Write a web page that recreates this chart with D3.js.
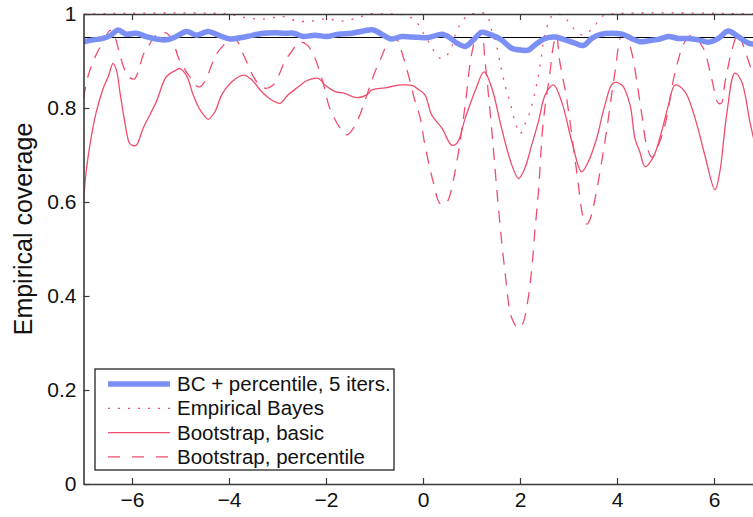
<!DOCTYPE html>
<html>
<head>
<meta charset="utf-8">
<script src="https://cdn.jsdelivr.net/npm/d3@7"></script>
<style>
  body { margin: 0; background: #fff; }
  svg { display: block; }
</style>
</head>
<body>
<div id="chart"></div>
<script>
var width = 753,
    height = 517;

// BC + percentile, 5 iters.
var bcX = [-7, -6.8, -6.6, -6.43, -6.29, -6.12, -5.91, -5.71, -5.5, -5.29, -5.09, -4.88, -4.67, -4.43, -4.22, -3.98, -3.74, -3.5, -3.29, -3.05, -2.85, -2.67, -2.47, -2.23, -1.99, -1.75, -1.47, -1.23, -1.02, -0.82, -0.65, -0.44, -0.23, 0.11, 0.39, 0.52, 0.7, 0.87, 1.04, 1.21, 1.42, 1.62, 1.83, 2.04, 2.17, 2.31, 2.52, 2.73, 2.93, 3.13, 3.31, 3.48, 3.68, 3.89, 4.1, 4.3, 4.47, 4.65, 4.85, 5.06, 5.26, 5.47, 5.68, 5.88, 6.09, 6.29, 6.5, 6.71, 7];
var bcY = [0.941, 0.945, 0.948, 0.955, 0.966, 0.957, 0.959, 0.952, 0.947, 0.945, 0.952, 0.963, 0.955, 0.963, 0.955, 0.947, 0.95, 0.955, 0.959, 0.96, 0.959, 0.959, 0.952, 0.955, 0.952, 0.957, 0.959, 0.964, 0.966, 0.955, 0.947, 0.952, 0.951, 0.95, 0.957, 0.952, 0.938, 0.931, 0.945, 0.961, 0.955, 0.945, 0.927, 0.923, 0.923, 0.934, 0.948, 0.951, 0.945, 0.938, 0.933, 0.948, 0.957, 0.959, 0.957, 0.948, 0.941, 0.943, 0.946, 0.952, 0.948, 0.948, 0.945, 0.94, 0.948, 0.964, 0.952, 0.938, 0.935];

// Empirical Bayes
var ebX = [-7, -4, -3.8, -3.5, -3.2, -2.9, -2.6, -2.3, -2, -1.7, -1.4, -1.1, -0.8, -0.5, -0.3, -0.15, 0, 0.15, 0.3, 0.4, 0.55, 0.7, 0.85, 1, 1.3, 1.4, 1.5, 1.6, 1.7, 1.8, 1.9, 2, 2.1, 2.2, 2.3, 2.4, 2.5, 2.6, 2.7, 2.9, 3.1, 3.3, 3.5, 3.7, 3.9, 7];
var ebY = [1, 1, 0.995, 0.99, 0.99, 0.995, 0.985, 0.985, 0.99, 0.985, 0.99, 1, 1, 1, 0.995, 0.985, 0.96, 0.935, 0.91, 0.905, 0.92, 0.965, 0.99, 1, 1, 0.97, 0.94, 0.89, 0.845, 0.81, 0.77, 0.745, 0.765, 0.79, 0.83, 0.88, 0.95, 0.985, 1, 0.995, 0.97, 0.955, 0.97, 0.995, 1, 1];

// Bootstrap, basic
var basicX = [-7, -6.95, -6.87, -6.74, -6.6, -6.49, -6.39, -6.32, -6.25, -6.15, -6.05, -5.98, -5.91, -5.77, -5.5, -5.29, -5.1, -5.02, -4.88, -4.74, -4.62, -4.52, -4.43, -4.29, -4.15, -3.94, -3.7, -3.53, -3.33, -3.12, -2.95, -2.78, -2.57, -2.4, -2.16, -2.02, -1.81, -1.61, -1.37, -1.16, -1.06, -0.78, -0.44, -0.23, -0.1, 0.04, 0.18, 0.39, 0.59, 0.7, 0.87, 1.07, 1.26, 1.42, 1.62, 1.83, 1.97, 2.1, 2.24, 2.38, 2.52, 2.69, 2.86, 3.07, 3.27, 3.41, 3.58, 3.75, 3.92, 4.1, 4.27, 4.37, 4.47, 4.58, 4.75, 4.92, 5.06, 5.2, 5.4, 5.61, 5.81, 6.02, 6.12, 6.26, 6.43, 6.57, 6.74, 6.88, 7];
var basicY = [0.6, 0.66, 0.72, 0.79, 0.84, 0.867, 0.895, 0.88, 0.835, 0.771, 0.725, 0.72, 0.721, 0.757, 0.813, 0.867, 0.88, 0.884, 0.87, 0.828, 0.8, 0.785, 0.776, 0.792, 0.828, 0.856, 0.87, 0.86, 0.835, 0.817, 0.81, 0.828, 0.845, 0.858, 0.863, 0.849, 0.835, 0.831, 0.822, 0.828, 0.838, 0.843, 0.849, 0.848, 0.84, 0.828, 0.785, 0.757, 0.721, 0.725, 0.778, 0.835, 0.877, 0.842, 0.757, 0.679, 0.65, 0.672, 0.721, 0.771, 0.828, 0.849, 0.813, 0.728, 0.664, 0.686, 0.735, 0.806, 0.853, 0.849, 0.806, 0.735, 0.707, 0.675, 0.696, 0.75, 0.806, 0.849, 0.835, 0.778, 0.7, 0.626, 0.664, 0.785, 0.874, 0.856, 0.771, 0.71, 0.68];

// Bootstrap, percentile
var pctX = [-7, -6.9, -6.74, -6.6, -6.45, -6.35, -6.25, -6.15, -6.05, -5.95, -5.85, -5.77, -5.67, -5.5, -5.3, -5.15, -5.05, -4.9, -4.81, -4.7, -4.6, -4.48, -4.36, -4.25, -4.1, -3.95, -3.85, -3.67, -3.43, -3.25, -3.09, -2.95, -2.85, -2.71, -2.55, -2.4, -2.29, -2.19, -2.05, -1.92, -1.68, -1.57, -1.45, -1.33, -1.15, -0.99, -0.85, -0.75, -0.6, -0.5, -0.44, -0.3, -0.16, -0.06, 0.04, 0.21, 0.35, 0.45, 0.52, 0.66, 0.78, 0.87, 1, 1.11, 1.2, 1.28, 1.42, 1.55, 1.69, 1.83, 1.96, 2.05, 2.14, 2.24, 2.3, 2.38, 2.48, 2.62, 2.69, 2.75, 2.82, 2.96, 3.17, 3.31, 3.38, 3.45, 3.55, 3.75, 3.96, 4.1, 4.2, 4.3, 4.44, 4.52, 4.61, 4.72, 4.85, 4.99, 5.2, 5.4, 5.55, 5.78, 5.95, 6.09, 6.15, 6.23, 6.37, 6.5, 6.6, 6.74, 6.88, 7];
var pctY = [0.82, 0.87, 0.913, 0.94, 0.965, 0.95, 0.913, 0.881, 0.865, 0.862, 0.885, 0.913, 0.93, 0.955, 0.96, 0.94, 0.909, 0.88, 0.867, 0.849, 0.845, 0.86, 0.891, 0.916, 0.935, 0.95, 0.945, 0.906, 0.856, 0.842, 0.849, 0.875, 0.899, 0.92, 0.94, 0.935, 0.92, 0.896, 0.85, 0.799, 0.753, 0.743, 0.755, 0.778, 0.83, 0.877, 0.91, 0.934, 0.95, 0.94, 0.92, 0.87, 0.813, 0.78, 0.721, 0.643, 0.597, 0.595, 0.604, 0.664, 0.74, 0.806, 0.913, 0.955, 0.965, 0.899, 0.75, 0.594, 0.452, 0.353, 0.332, 0.34, 0.377, 0.455, 0.53, 0.622, 0.771, 0.877, 0.934, 0.955, 0.899, 0.821, 0.664, 0.565, 0.553, 0.565, 0.608, 0.728, 0.877, 0.955, 0.95, 0.92, 0.835, 0.78, 0.721, 0.695, 0.72, 0.764, 0.877, 0.941, 0.955, 0.927, 0.863, 0.81, 0.81, 0.856, 0.923, 0.96, 0.934, 0.891, 0.85, 0.82];

var target = 0.95;
var xTicks = [-6, -4, -2, 0, 2, 4, 6];
var yTicks = [0, 0.2, 0.4, 0.6, 0.8, 1];
var legendLabels = ["BC + percentile, 5 iters.", "Empirical Bayes", "Bootstrap, basic", "Bootstrap, percentile"];

var red = "#f04d6e",
    blue = "#7b8ff4";

var x = d3.scaleLinear().domain([-7, 7]).range([83.5, 762.5]);
var y = d3.scaleLinear().domain([0, 1]).range([484, 14]);

var svg = d3.select("#chart").append("svg")
    .attr("width", width)
    .attr("height", height)
    .attr("font-family", "'Liberation Sans', Arial, sans-serif");

svg.append("defs").append("clipPath").attr("id", "plotclip")
    .append("rect")
    .attr("x", x(-7)).attr("y", y(1) - 3)
    .attr("width", x(7) - x(-7)).attr("height", y(0) - y(1) + 3);

function pts(xs, ys) { return xs.map((v, i) => [v, ys[i]]); }

var line = d3.line()
    .x(d => x(d[0]))
    .y(d => y(d[1]))
    .curve(d3.curveCatmullRom.alpha(0.5));

var plot = svg.append("g").attr("clip-path", "url(#plotclip)");

plot.append("path")
    .datum(pts(pctX, pctY))
    .attr("fill", "none")
    .attr("stroke", red)
    .attr("stroke-width", 1.3)
    .attr("stroke-dasharray", "12,9")
    .attr("d", line);

plot.append("path")
    .datum(pts(basicX, basicY))
    .attr("fill", "none")
    .attr("stroke", red)
    .attr("stroke-width", 1.3)
    .attr("d", line);

plot.append("path")
    .datum(pts(ebX, ebY))
    .attr("fill", "none")
    .attr("stroke", red)
    .attr("stroke-width", 1.3)
    .attr("stroke-dasharray", "2,8")
    .attr("d", line);

plot.append("line")
    .attr("x1", x(-7)).attr("x2", x(7))
    .attr("y1", y(target)).attr("y2", y(target))
    .attr("stroke", "#000")
    .attr("stroke-width", 1);

plot.append("path")
    .datum(pts(bcX, bcY))
    .attr("fill", "none")
    .attr("stroke", blue)
    .attr("stroke-width", 5.5)
    .attr("stroke-linejoin", "round")
    .attr("d", line);

// axes, ticks pointing inward
function styleAxis(g) {
    g.selectAll(".domain").attr("stroke", "#3a3a3a").attr("stroke-width", 1.6);
    g.selectAll(".tick line").attr("stroke", "#3a3a3a").attr("stroke-width", 1.2);
    g.selectAll(".tick text").attr("fill", "#111").attr("font-size", 21);
}

svg.append("g")
    .attr("transform", `translate(0,${y(0)})`)
    .call(d3.axisBottom(x).tickValues(xTicks).tickSizeInner(-6).tickSizeOuter(0).tickPadding(7)
        .tickFormat(d => d < 0 ? "\u2212" + Math.abs(d) : d))
    .call(styleAxis)
    .call(g => g.selectAll(".tick text").attr("dy", "0.78em"));

svg.append("g")
    .attr("transform", `translate(0,${y(1)})`)
    .call(d3.axisTop(x).tickValues(xTicks).tickSizeInner(-6).tickSizeOuter(0).tickFormat(""))
    .call(styleAxis);

svg.append("g")
    .attr("transform", `translate(${x(-7)},0)`)
    .call(d3.axisLeft(y).tickValues(yTicks).tickSizeInner(-6).tickSizeOuter(0).tickPadding(7)
        .tickFormat(d3.format("~g")))
    .call(styleAxis);

svg.append("text")
    .attr("transform", "translate(23,229) rotate(-90)")
    .attr("text-anchor", "middle")
    .attr("dominant-baseline", "central")
    .attr("font-size", 25)
    .attr("fill", "#111")
    .text("Empirical coverage");

// legend
var legend = svg.append("g").attr("transform", "translate(95,369)");
legend.append("rect")
    .attr("width", 299).attr("height", 101)
    .attr("fill", "#fff")
    .attr("stroke", "#111")
    .attr("stroke-width", 1.2);

var styles = [
    { stroke: blue, w: 5.5, dash: null },
    { stroke: red, w: 1.3, dash: "2,8" },
    { stroke: red, w: 1.3, dash: null },
    { stroke: red, w: 1.3, dash: "12,12" }
];

var item = legend.selectAll("g.item")
    .data(legendLabels)
    .join("g")
    .attr("class", "item")
    .attr("transform", (d, i) => `translate(0,${15 + i * 24.3})`);

item.append("line")
    .attr("x1", 13).attr("x2", 75)
    .attr("stroke", (d, i) => styles[i].stroke)
    .attr("stroke-width", (d, i) => styles[i].w)
    .attr("stroke-dasharray", (d, i) => styles[i].dash);

item.append("text")
    .attr("x", 82)
    .attr("y", 7)
    .attr("font-size", 20.5)
    .attr("fill", "#111")
    .text(d => d);
</script>
</body>
</html>
